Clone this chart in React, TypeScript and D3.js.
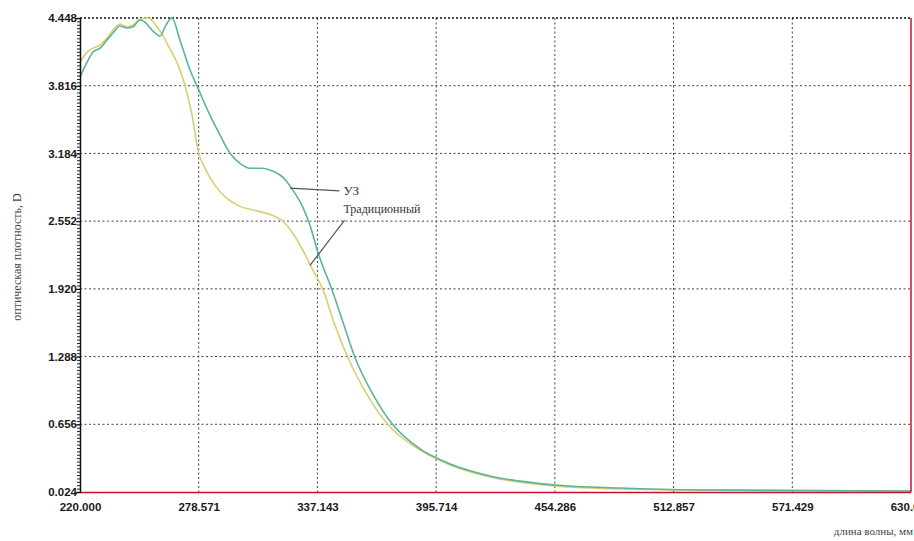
import { useRef, useEffect } from 'react';
import * as d3 from 'd3';

// wavelength, nm
const uzX = [220.0, 223.5, 226.4, 229.9, 233.3, 236.3, 239.7, 243.2, 246.1, 249.6, 252.1, 255.5, 259.5, 262.4, 265.4, 269.3, 274.3, 278.2, 284.1, 289.1, 294.0, 298.9, 303.9, 309.8, 315.2, 320.2, 325.1, 330.0, 333.5, 337.4, 344.3, 349.8, 355.7, 364.1, 374.4, 387.8, 402.6, 422.3, 454.4, 486.4, 525.9, 575.2, 630.0];
// optical density
const uzY = [3.896, 4.036, 4.130, 4.167, 4.242, 4.308, 4.373, 4.354, 4.364, 4.429, 4.410, 4.336, 4.280, 4.382, 4.448, 4.242, 3.962, 3.793, 3.541, 3.354, 3.185, 3.092, 3.046, 3.046, 3.017, 2.961, 2.839, 2.680, 2.512, 2.259, 1.913, 1.605, 1.277, 0.950, 0.651, 0.426, 0.286, 0.174, 0.089, 0.061, 0.043, 0.038, 0.033];

const tradX = [220.0, 223.5, 226.4, 229.9, 233.3, 236.3, 239.7, 243.2, 246.1, 249.6, 253.5, 258.5, 263.4, 268.4, 271.8, 275.3, 278.2, 281.7, 286.6, 292.5, 298.9, 306.3, 313.7, 320.2, 325.1, 330.0, 335.0, 339.9, 345.3, 352.2, 361.1, 372.0, 385.3, 402.6, 422.3, 454.4, 486.4, 525.9, 575.2, 630.0];
const tradY = [4.036, 4.130, 4.167, 4.195, 4.261, 4.336, 4.392, 4.364, 4.382, 4.438, 4.448, 4.354, 4.195, 4.008, 3.821, 3.541, 3.213, 3.045, 2.886, 2.764, 2.690, 2.652, 2.615, 2.549, 2.437, 2.278, 2.091, 1.913, 1.605, 1.277, 0.950, 0.651, 0.445, 0.277, 0.164, 0.080, 0.052, 0.043, 0.038, 0.033];

const xTicks = [220.0, 278.571, 337.143, 395.714, 454.286, 512.857, 571.429, 630.0];
const yTicks = [0.024, 0.656, 1.288, 1.920, 2.552, 3.184, 3.816, 4.448];

const App = () => {
    const svgRef = useRef(null);

    useEffect(() => {
        const w = 914;
        const h = 541;
        const m = { left: 80, right: 3, top: 18, bottom: 49 };
        const svg = d3.select(svgRef.current)
            .attr('width', w)
            .attr('height', h);
        svg.selectAll('*').remove();

        const x = d3.scaleLinear().domain([220, 630]).range([m.left, w - m.right]);
        const y = d3.scaleLinear().domain([0.024, 4.448]).range([h - m.bottom, m.top]);

        //grid
        svg.append('g')
            .selectAll('line')
            .data(xTicks.slice(1, -1))
            .enter()
            .append('line')
                .attr('x1', d => x(d)).attr('x2', d => x(d))
                .attr('y1', y(4.448)).attr('y2', y(0.024))
                .attr('stroke', '#444')
                .attr('stroke-dasharray', '2,2.5');
        svg.append('g')
            .selectAll('line')
            .data(yTicks.slice(1, -1))
            .enter()
            .append('line')
                .attr('x1', x(220)).attr('x2', x(630))
                .attr('y1', d => y(d)).attr('y2', d => y(d))
                .attr('stroke', '#444')
                .attr('stroke-dasharray', '2,2.5');
        // top border
        svg.append('line')
            .attr('x1', x(220)).attr('x2', x(630))
            .attr('y1', y(4.448)).attr('y2', y(4.448))
            .attr('stroke', '#111')
            .attr('stroke-width', 1.5)
            .attr('stroke-dasharray', '2,2');

        //curves
        const line = d3.line().curve(d3.curveMonotoneX);
        svg.append('path')
            .attr('d', line(tradX.map((d, i) => [x(d), y(tradY[i])])))
            .attr('fill', 'none')
            .attr('stroke', '#d9cf72')
            .attr('stroke-width', 1.6);
        svg.append('path')
            .attr('d', line(uzX.map((d, i) => [x(d), y(uzY[i])])))
            .attr('fill', 'none')
            .attr('stroke', '#5ab596')
            .attr('stroke-width', 1.6);

        //red frame (bottom, right)
        svg.append('line')
            .attr('x1', x(220)).attr('x2', x(630))
            .attr('y1', y(0.024) + 0.5).attr('y2', y(0.024) + 0.5)
            .attr('stroke', '#c8102e')
            .attr('stroke-width', 1.5);
        svg.append('line')
            .attr('x1', x(630)).attr('x2', x(630))
            .attr('y1', y(4.448)).attr('y2', y(0.024))
            .attr('stroke', '#c8102e')
            .attr('stroke-width', 1.5);

        //left axis with minor ticks
        const minor = d3.range(0, 141).map(i => 0.024 + i * 0.0316);
        svg.append('g')
            .attr('transform', `translate(${m.left}, 0)`)
            .call(d3.axisLeft(y).tickValues(minor).tickSize(3).tickFormat(() => ''))
            .call(g => g.selectAll('line').attr('stroke', '#222'))
            .call(g => g.select('.domain').attr('stroke', '#111').attr('stroke-width', 1.5));
        const yAxis = svg.append('g')
            .attr('transform', `translate(${m.left}, 0)`)
            .call(d3.axisLeft(y).tickValues(yTicks).tickSize(4).tickFormat(d3.format('.3f')));
        yAxis.select('.domain').remove();
        yAxis.selectAll('line').attr('stroke', '#111');
        yAxis.selectAll('text')
            .attr('x', -3)
            .attr('fill', '#1a1a1a')
            .style('font-family', '"Liberation Sans Narrow", "Arial Narrow", sans-serif')
            .style('font-weight', 'bold')
            .style('font-size', '11.5px');

        //bottom axis labels
        const xAxis = svg.append('g')
            .attr('transform', `translate(0, ${y(0.024)})`)
            .call(d3.axisBottom(x).tickValues(xTicks).tickSize(0).tickPadding(11).tickFormat(d3.format('.3f')));
        xAxis.select('.domain').remove();
        xAxis.selectAll('text')
            .attr('fill', '#1a1a1a')
            .style('font-family', '"Liberation Sans Narrow", "Arial Narrow", sans-serif')
            .style('font-weight', 'bold')
            .style('font-size', '11.5px');

        //axis titles
        svg.append('text')
            .attr('transform', `translate(21, ${(y(0.024) + y(4.448)) / 2 + 2}) rotate(-90)`)
            .attr('text-anchor', 'middle')
            .attr('fill', '#444')
            .style('font-family', '"Liberation Serif", serif')
            .style('font-size', '12px')
            .text('оптическая плотность, D');
        svg.append('text')
            .attr('x', 913)
            .attr('y', 535)
            .attr('text-anchor', 'end')
            .attr('fill', '#444')
            .style('font-family', '"Liberation Serif", serif')
            .style('font-size', '11px')
            .text('длина волны, мм');

        //annotations
        const ann = svg.append('g')
            .style('font-family', '"Liberation Serif", serif')
            .attr('fill', '#333');
        ann.append('line')
            .attr('x1', x(323.6)).attr('y1', y(2.86))
            .attr('x2', x(348)).attr('y2', y(2.835))
            .attr('stroke', '#555').attr('stroke-width', 1.2);
        ann.append('text')
            .attr('x', x(350)).attr('y', y(2.835) + 4)
            .style('font-size', '13px')
            .text('УЗ');
        ann.append('line')
            .attr('x1', x(350.5)).attr('y1', y(2.56))
            .attr('x2', x(333.5)).attr('y2', y(2.14))
            .attr('stroke', '#555').attr('stroke-width', 1.2);
        ann.append('text')
            .attr('x', x(350)).attr('y', y(2.63))
            .style('font-size', '12px')
            .text('Традиционный');
    }, []);

    return (
        <div style={{ position: 'absolute', left: 0, top: 0 }}>
            <svg ref={svgRef} style={{ display: 'block', background: '#fff' }}></svg>
        </div>
    );
}

export default App;
